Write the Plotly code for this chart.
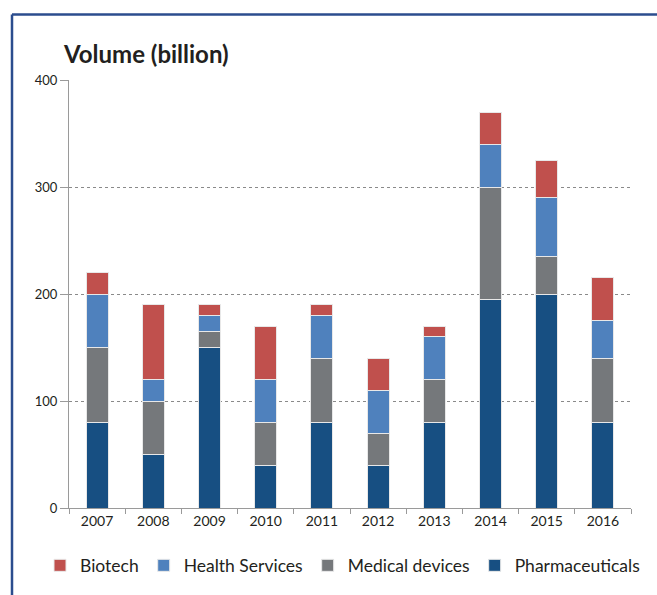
import plotly.graph_objects as go

years = ["2007", "2008", "2009", "2010", "2011", "2012", "2013", "2014", "2015", "2016"]
pharmaceuticals = [80, 50, 150, 40, 80, 40, 80, 195, 200, 80]
medical_devices = [70, 50, 15, 40, 60, 30, 40, 105, 35, 60]
health_services = [50, 20, 15, 40, 40, 40, 40, 40, 55, 35]
biotech = [20, 70, 10, 50, 10, 30, 10, 30, 35, 40]
y_ticks = [0, 100, 200, 300, 400]

series = [
    ("Pharmaceuticals", pharmaceuticals, "#174f82"),
    ("Medical devices", medical_devices, "#75787b"),
    ("Health Services", health_services, "#4f81bd"),
    ("Biotech", biotech, "#c0504d"),
]

FONT = "Lato"
fig = go.Figure()
for name, vals, col in series:
    fig.add_trace(go.Bar(
        x=years, y=vals, name=name,
        marker=dict(color=col, line=dict(color="#e8e8e8", width=1)),
    ))

W, H = 657, 595
L, R, T, B = 69, 26, 80, 83
pw, ph = W - L - R, H - T - B

def px_x(x):
    return (x - L) / pw

def px_y(y):
    return (H - B - y) / ph

fig.update_layout(
    width=W, height=H,
    margin=dict(l=L, r=R, t=T, b=B),
    barmode="stack",
    bargap=0.61,
    paper_bgcolor="white",
    plot_bgcolor="white",
    font=dict(family=FONT, color="#231f20"),
    showlegend=True,
    legend=dict(
        orientation="h", traceorder="reversed",
        x=px_x(40), xanchor="left",
        y=px_y(570), yanchor="middle",
        font=dict(size=17.5, family=FONT, color="#231f20"),
        itemclick=False,
    ),
    xaxis=dict(
        type="category",
        showline=True, linecolor="#9a9a9a", linewidth=1,
        ticks="outside", ticklen=5, tickcolor="#9a9a9a",
        tickson="boundaries",
        tickfont=dict(size=14, family=FONT, color="#231f20"),
        showgrid=False,
    ),
    yaxis=dict(
        range=[0, 400], tickvals=y_ticks,
        showline=True, linecolor="#9a9a9a", linewidth=1,
        ticks="outside", ticklen=8, tickcolor="#9a9a9a",
        tickfont=dict(size=13, family=FONT, color="#231f20"),
        showgrid=True, gridcolor="#8a8a8a", griddash="dot", gridwidth=1,
        zeroline=False,
    ),
)

fig.add_annotation(
    text="<b>Volume (billion)</b>", xref="paper", yref="paper",
    x=px_x(61), y=px_y(53), xanchor="left", yanchor="middle",
    showarrow=False, font=dict(size=24, family=FONT, color="#231f20"),
)

# blue frame (cropped on the right and bottom)
fig.add_shape(type="line", xref="paper", yref="paper",
              x0=px_x(12), x1=px_x(700), y0=px_y(14), y1=px_y(14),
              line=dict(color="#2b4d8e", width=2.5))
fig.add_shape(type="line", xref="paper", yref="paper",
              x0=px_x(12), x1=px_x(12), y0=px_y(14), y1=px_y(640),
              line=dict(color="#2b4d8e", width=2.5))

fig.write_html("out.html")
